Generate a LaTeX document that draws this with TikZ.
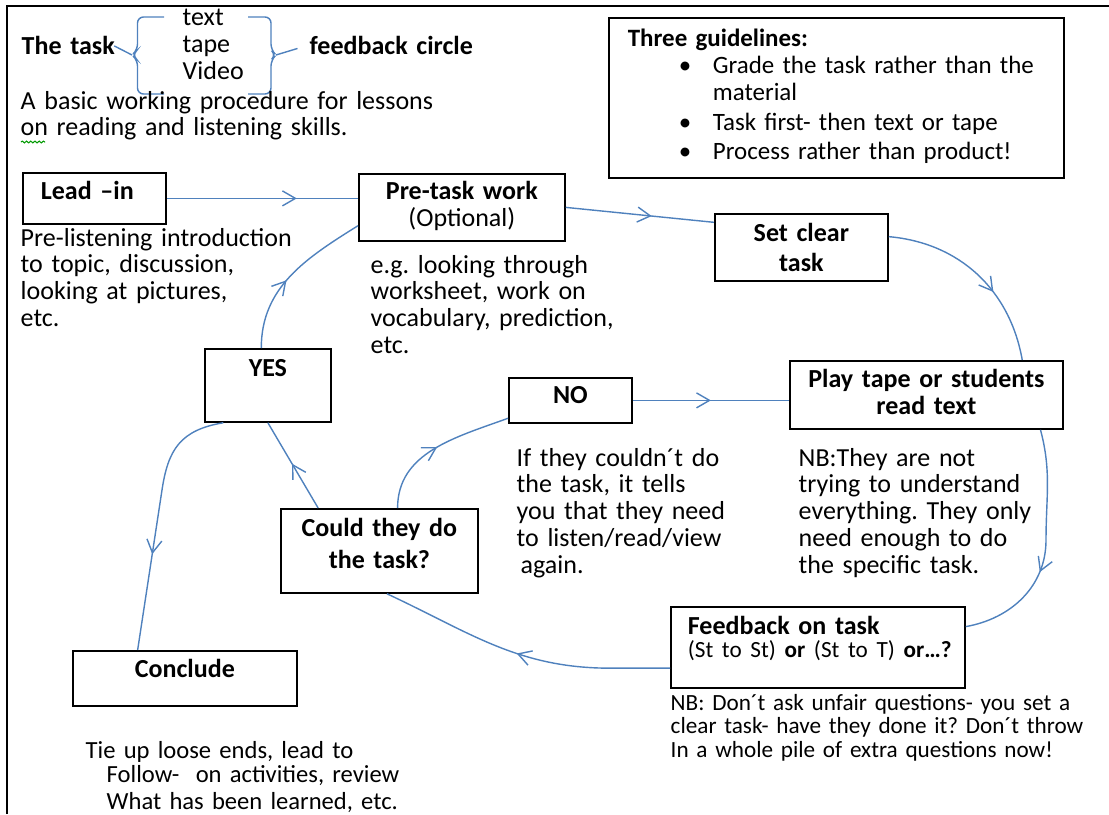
\documentclass[tikz,border=0pt]{standalone}
\usepackage{fontspec}
\setmainfont{Carlito}
\usetikzlibrary{arrows.meta, decorations.markings, decorations.pathmorphing}
\definecolor{linkblue}{HTML}{4F81BD}
\newcommand{\bodyfont}{\fontsize{7.4}{7.68}\selectfont}
\frenchspacing
\tikzset{
  box/.style={draw, line width=0.5pt, anchor=north west, inner xsep=0pt, inner ysep=0pt, align=center, font=\bodyfont\bfseries},
  txt/.style={anchor=base west, inner sep=0pt, align=left, text width=#1},
  txt/.default=4.5cm,
  wire/.style={draw=linkblue, line width=0.4pt},
  flow/.style={wire, postaction={decorate}, decoration={markings, mark=at position #1 with {\arrow{Straight Barb[length=0.13cm,width=0.15cm]}}}}
}

\begin{document}
\begin{tikzpicture}[font=\bodyfont]
    \useasboundingbox (0,0) rectangle (11.09,-8.14);
    \draw[line width=0.6pt] (0.07,-8.14) -- (0.07,-0.06) -- (11.09,-0.06);

    % Heading

    \node[txt=0.9cm, font=\bodyfont\bfseries] (task) at (0.21,-0.54) {\mbox{The task}};
    \node[txt=0.7cm] (media) at (1.82,-0.26) {text\\tape\\Video};
    \node[txt=1.8cm, font=\bodyfont\bfseries] (circ) at (3.09,-0.54) {\mbox{feedback circle}};
    \coordinate (lb) at (1.32,-0.55);
    \coordinate (rb) at (2.76,-0.55);
    \draw[wire, rounded corners=0.06cm] (1.64,-0.17) -- (1.375,-0.17) -- (1.375,-0.50) -- (lb) -- (1.375,-0.60) -- (1.375,-0.94) -- (1.64,-0.94);
    \draw[wire, rounded corners=0.06cm] (2.48,-0.17) -- (2.71,-0.17) -- (2.71,-0.50) -- (rb) -- (2.71,-0.60) -- (2.71,-0.94) -- (2.48,-0.94);
    \draw[wire, shorten <=0.02cm] (task.east) -- (lb);
    \draw[wire, shorten >=0.12cm] (rb) -- (circ.west);

    \node[txt] (intro) at (0.20,-1.09) {A basic working procedure for lessons\\on reading and listening skills.};
    \draw[green!60!black, line width=0.3pt, decorate, decoration={snake, amplitude=0.25pt, segment length=1.2pt}] (0.21,-1.42) -- (0.45,-1.42);

    \node[box, text width=4.17cm, inner xsep=0.19cm, align=left, text height=0.29cm, text depth=1.31cm, font=\fontsize{7.1}{7.68}\selectfont] (rules) at (6.08,-0.17) {\textbf{Three guidelines:}\\
      \hspace*{0.51cm}\makebox[0.34cm][l]{\textbullet}Grade the task rather than the\\
      \hspace*{0.85cm}material\\[0.03cm]
      \hspace*{0.51cm}\makebox[0.34cm][l]{\textbullet}Task first- then text or tape\\[0.02cm]
      \hspace*{0.51cm}\makebox[0.34cm][l]{\textbullet}Process rather than product!};

    % Cycle

    \node[box, text width=1.07cm, inner xsep=0.18cm, align=left, text height=0.27cm, text depth=0.24cm] (leadin) at (0.22,-1.72) {Lead –in};
    \node[box, text width=2.06cm, text height=0.26cm, text depth=0.41cm] (pretask) at (3.58,-1.73) {Pre-task work\\{\mdseries (Optional)}};
    \node[box, text width=1.73cm, text height=0.28cm, text depth=0.39cm] (setclear) at (7.14,-2.13) {Set clear\\[0.03cm]task};
    \node[box, text width=2.73cm, text height=0.27cm, text depth=0.41cm] (play) at (7.89,-3.60) {Play tape or students\\read text};
    \node[box, text width=1.23cm, text height=0.26cm, text depth=0.19cm] (no) at (5.08,-3.77) {NO};
    \node[box, text width=1.26cm, text height=0.28cm, text depth=0.45cm] (yes) at (2.04,-3.48) {YES};
    \node[box, text width=1.97cm, text height=0.28cm, text depth=0.56cm] (could) at (2.80,-5.08) {Could they do\\[0.05cm]the task?};
    \node[box, text width=2.60cm, inner xsep=0.17cm, align=left, text height=0.28cm, text depth=0.53cm] (feedback) at (6.70,-6.06) {Feedback on task\\[-0.04cm]\mdseries\fontsize{6.6}{7.68}\selectfont\mbox{(St to St) \textbf{or} (St to T) \textbf{or…?}}};
    \node[box, text width=2.24cm, text height=0.27cm, text depth=0.28cm] (conclude) at (0.72,-6.50) {Conclude};

    \node[txt] (leadtxt) at (0.20,-2.46) {Pre-listening introduction\\to topic, discussion,\\looking at pictures,\\etc.};
    \node[txt] (pretxt) at (3.70,-2.73) {e.g. looking through\\worksheet, work on\\vocabulary, prediction,\\etc.};
    \node[txt=2.5cm] (notxt) at (5.16,-4.66) {If they couldn´t do\\the task, it tells\\you that they need\\to listen/read/view\\\hspace*{0.04cm}again.};
    \node[txt=2.6cm] (playtxt) at (7.98,-4.66) {NB:They are not\\trying to understand\\everything. They only\\need enough to do\\the specific task.};
    \node[txt, font=\fontsize{6.6}{6.7}\selectfont] (fbtxt) at (6.70,-7.10) {NB: Don´t ask unfair questions- you set a\\clear task- have they done it? Don´t throw\\In a whole pile of extra questions now!};
    \node[txt, font=\fontsize{7}{7.0}\selectfont] (conctxt) at (0.85,-7.58) {Tie up loose ends, lead to\\\hspace*{0.21cm}Follow-\ \ on activities, review\\[0.02cm]\hspace*{0.21cm}What has been learned, etc.};

    % Arrows

    \draw[flow=0.68] (leadin.east) -- (pretask.west |- leadin.east);
    \draw[flow=0.58] (pretask.east) -- (setclear.164);
    \draw[flow=0.62] (setclear.7) to[out=-5, in=100] (play.20);
    \draw[flow=0.6] (play.-17) to[out=-75, in=90] (10.46,-5.4) to[out=-90, in=10] (feedback.8);
    \draw[flow=0.52] (feedback.188) -- ++(-0.6,0) to[out=180, in=-25] (could.-80);
    \draw[flow=0.52] (could.145) -- (yes.south);
    \draw[flow=0.5] (could.67) to[out=90, in=200] (no.196);
    \draw[flow=0.5] (no.east) -- (play.west |- no.east);
    \draw[flow=0.45] (yes.100) to[out=90, in=212] (pretask.190);
    \draw[flow=0.63] (yes.220) .. controls (1.80,-4.30) and (1.68,-4.50) .. (1.62,-4.90) -- (conclude.149);
\end{tikzpicture}
\end{document}
